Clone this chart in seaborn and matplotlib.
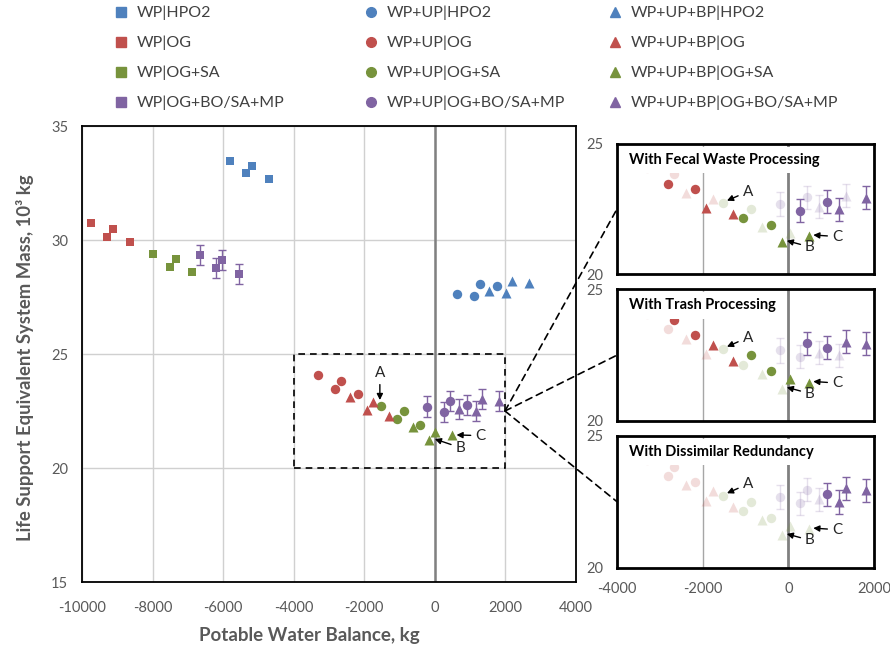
import numpy as np
import pandas as pd
import seaborn as sns
import matplotlib.pyplot as plt
from matplotlib.patches import Rectangle, ConnectionPatch
from matplotlib.lines import Line2D

# four cases for every architecture: base, trash, fecal, fecal + trash
configs = ["base", "trash", "fecal", "both"]

wp_hpo2_x = [-5807, -5174, -5345, -4700]
wp_hpo2_y = [33.48, 33.25, 32.93, 32.68]
wp_og_x = [-9750, -9118, -9288, -8644]
wp_og_y = [30.73, 30.48, 30.14, 29.90]
wp_ogsa_x = [-7983, -7339, -7509, -6877]
wp_ogsa_y = [29.37, 29.15, 28.82, 28.58]
wp_bo_x = [-6658, -6026, -6196, -5552]
wp_bo_y = [29.33, 29.11, 28.76, 28.51]
wp_bo_err = [0.44, 0.44, 0.44, 0.44]

up_hpo2_x = [652, 1285, 1115, 1759]
up_hpo2_y = [27.63, 28.07, 27.54, 27.97]
up_og_x = [-3302, -2658, -2820, -2184]
up_og_y = [24.08, 23.83, 23.48, 23.25]
up_ogsa_x = [-1515, -879, -1050, -409]
up_ogsa_y = [22.73, 22.49, 22.14, 21.90]
up_bo_x = [-199, 434, 264, 908]
up_bo_y = [22.68, 22.95, 22.44, 22.78]
up_bo_err = [0.46, 0.44, 0.44, 0.44]

bp_hpo2_x = [1549, 2201, 2031, 2667]
bp_hpo2_y = [27.76, 28.21, 27.69, 28.13]
bp_og_x = [-2394, -1750, -1920, -1288]
bp_og_y = [23.13, 22.89, 22.54, 22.29]
bp_ogsa_x = [-616, 28, -142, 491]
bp_ogsa_y = [21.79, 21.58, 21.23, 21.45]
bp_bo_x = [709, 1350, 1191, 1816]
bp_bo_y = [22.59, 23.01, 22.49, 22.93]
bp_bo_err = [0.44, 0.44, 0.44, 0.44]

blue, red, green, purple = "#4F81BD", "#C0504D", "#77933C", "#8064A2"
series = [
    ("WP|HPO2", wp_hpo2_x, wp_hpo2_y, None, blue, "s"),
    ("WP|OG", wp_og_x, wp_og_y, None, red, "s"),
    ("WP|OG+SA", wp_ogsa_x, wp_ogsa_y, None, green, "s"),
    ("WP|OG+BO/SA+MP", wp_bo_x, wp_bo_y, wp_bo_err, purple, "s"),
    ("WP+UP|HPO2", up_hpo2_x, up_hpo2_y, None, blue, "o"),
    ("WP+UP|OG", up_og_x, up_og_y, None, red, "o"),
    ("WP+UP|OG+SA", up_ogsa_x, up_ogsa_y, None, green, "o"),
    ("WP+UP|OG+BO/SA+MP", up_bo_x, up_bo_y, up_bo_err, purple, "o"),
    ("WP+UP+BP|HPO2", bp_hpo2_x, bp_hpo2_y, None, blue, "^"),
    ("WP+UP+BP|OG", bp_og_x, bp_og_y, None, red, "^"),
    ("WP+UP+BP|OG+SA", bp_ogsa_x, bp_ogsa_y, None, green, "^"),
    ("WP+UP+BP|OG+BO/SA+MP", bp_bo_x, bp_bo_y, bp_bo_err, purple, "^"),
]

inset_titles = ["With Fecal Waste Processing", "With Trash Processing",
                "With Dissimilar Redundancy"]
fecal_cases = ["fecal", "both"]
trash_cases = ["trash", "both"]
redundancy_points = [("WP+UP|OG+BO/SA+MP", "both"),
                     ("WP+UP+BP|OG+BO/SA+MP", "trash"),
                     ("WP+UP+BP|OG+BO/SA+MP", "fecal"),
                     ("WP+UP+BP|OG+BO/SA+MP", "both")]

rows = []
for name, xs, ys, errs, col, mk in series:
    for i in range(len(xs)):
        rows.append({"series": name, "config": configs[i], "x": xs[i], "y": ys[i],
                     "err": errs[i] if errs else np.nan})
df = pd.DataFrame(rows)
colors = {s[0]: s[4] for s in series}
markers = {s[0]: s[5] for s in series}
sizes = {"s": 40, "o": 46, "^": 52}

sns.set_style("white")
plt.rcParams["font.family"] = ["Lato", "DejaVu Sans"]
plt.rcParams["axes.unicode_minus"] = False
tick_col = "#595959"


def draw_points(ax, d, alpha):
    for name, g in d.groupby("series", sort=False):
        if g["err"].notna().any():
            ax.errorbar(g["x"], g["y"], yerr=g["err"], fmt="none", ecolor=colors[name],
                        elinewidth=1, capsize=3, capthick=1, alpha=alpha, zorder=2)
        sns.scatterplot(data=g, x="x", y="y", ax=ax, color=colors[name],
                        marker=markers[name], s=sizes[markers[name]], linewidth=0,
                        alpha=alpha, legend=False, zorder=3)


fig = plt.figure(figsize=(8.9, 6.51), dpi=100)
W, H = 890, 651


def px_axes(l, t, r, b):
    return fig.add_axes([l / W, 1 - b / H, (r - l) / W, (b - t) / H])


ax = px_axes(82, 126, 575.5, 582)
draw_points(ax, df, 1.0)
ax.set_xlim(-10000, 4000)
ax.set_ylim(15, 35)
ax.set_xticks(range(-10000, 4001, 2000))
ax.set_yticks(range(15, 36, 5))
ax.grid(True, color="#D0D0D0", lw=1)
ax.axvline(0, color="#808080", lw=1.8, zorder=1)
ax.set_xlabel("")
ax.set_ylabel("")
for sp in ax.spines.values():
    sp.set_color("black")
    sp.set_linewidth(1.3)
ax.tick_params(direction="in", length=3, width=1, colors="black", labelcolor=tick_col,
               labelsize=10.5)
ax.tick_params(axis="x", pad=14)
ax.tick_params(axis="y", pad=10)
ax.add_patch(Rectangle((-4000, 20), 6000, 5, fill=False, ls=(0, (4, 3)), lw=1.2,
                       color="black", zorder=4))

arrow = dict(arrowstyle="-|>", color="black", lw=1, mutation_scale=9, shrinkA=1, shrinkB=0)
ax.annotate("A", xy=(-1550, 22.98), xytext=(-1550, 24.17), ha="center", va="center",
            fontsize=11, arrowprops=arrow)
ax.annotate("B", xy=(9, 21.27), xytext=(738, 20.89), ha="center", va="center",
            fontsize=11, arrowprops=arrow)
ax.annotate("C", xy=(624, 21.45), xytext=(1305, 21.42), ha="center", va="center",
            fontsize=11, arrowprops=arrow)

fig.text(309 / W, 1 - 636 / H, "Potable Water Balance, kg", ha="center", va="center",
         fontsize=13.5, fontweight="bold", color=tick_col)
fig.text(25 / W, 1 - 358 / H, "Life Support Equivalent System Mass, 10³ kg", ha="center",
         va="center", rotation=90, fontsize=13.3, fontweight="bold", color=tick_col)

inset_boxes = [(617, 144, 874, 274), (617, 289.3, 874, 421), (617, 435.7, 874, 567.7)]
for k, (box, title) in enumerate(zip(inset_boxes, inset_titles)):
    ia = px_axes(*box)
    if k == 0:
        mask = df["config"].isin(fecal_cases)
    elif k == 1:
        mask = df["config"].isin(trash_cases)
    else:
        mask = pd.Series([(s, c) in redundancy_points for s, c in zip(df["series"], df["config"])])
    draw_points(ia, df[~mask], 0.2)
    draw_points(ia, df[mask], 1.0)
    ia.set_xlim(-4000, 2000)
    ia.set_ylim(20, 25)
    ia.set_xticks([-4000, -2000, 0, 2000])
    ia.set_yticks([20, 25])
    ia.axvline(-2000, color="#A6A6A6", lw=1, zorder=1)
    ia.axvline(0, color="#808080", lw=2, zorder=1)
    ia.set_xlabel("")
    ia.set_ylabel("")
    for sp in ia.spines.values():
        sp.set_color("black")
        sp.set_linewidth(2)
    ia.tick_params(direction="in", length=3, width=1, colors="black", labelcolor=tick_col,
                   labelsize=10.5, pad=10)
    if k < 2:
        ia.tick_params(labelbottom=False)
    ia.text(0.045, 0.877, title, transform=ia.transAxes, ha="left", va="center",
            fontsize=10.5, fontweight="bold", color="black", zorder=6,
            bbox=dict(facecolor="white", edgecolor="none", pad=4.5))
    ia.annotate("A", xy=(-1433, 22.82), xytext=(-945, 23.17), ha="center", va="center",
                fontsize=11, arrowprops=arrow)
    ia.annotate("B", xy=(-37, 21.28), xytext=(505, 21.04), ha="center", va="center",
                fontsize=11, arrowprops=arrow)
    ia.annotate("C", xy=(582, 21.5), xytext=(1140, 21.44), ha="center", va="center",
                fontsize=11, arrowprops=arrow)
    fig.add_artist(ConnectionPatch(xyA=(2000, 22.5), coordsA=ax.transData,
                                   xyB=(-4000, 22.5), coordsB=ia.transData,
                                   ls=(0, (4, 3)), lw=1.2, color="black", zorder=5))

# legend: one column per water architecture
legend_x = [114.5, 364.5, 608.5]
for c in range(3):
    handles = []
    for name, xs, ys, errs, col, mk in series[4 * c:4 * c + 4]:
        handles.append(Line2D([], [], ls="", marker=mk, color=col, markersize=7,
                              label=name))
    fig.legend(handles=handles, loc="upper left", bbox_to_anchor=(legend_x[c] / W, 1 - 6 / H),
               frameon=False, fontsize=11.5, labelcolor="#404040", handlelength=0.8,
               handletextpad=0.6, labelspacing=0.97, borderpad=0, borderaxespad=0)

fig.savefig("out.png", dpi=100)
